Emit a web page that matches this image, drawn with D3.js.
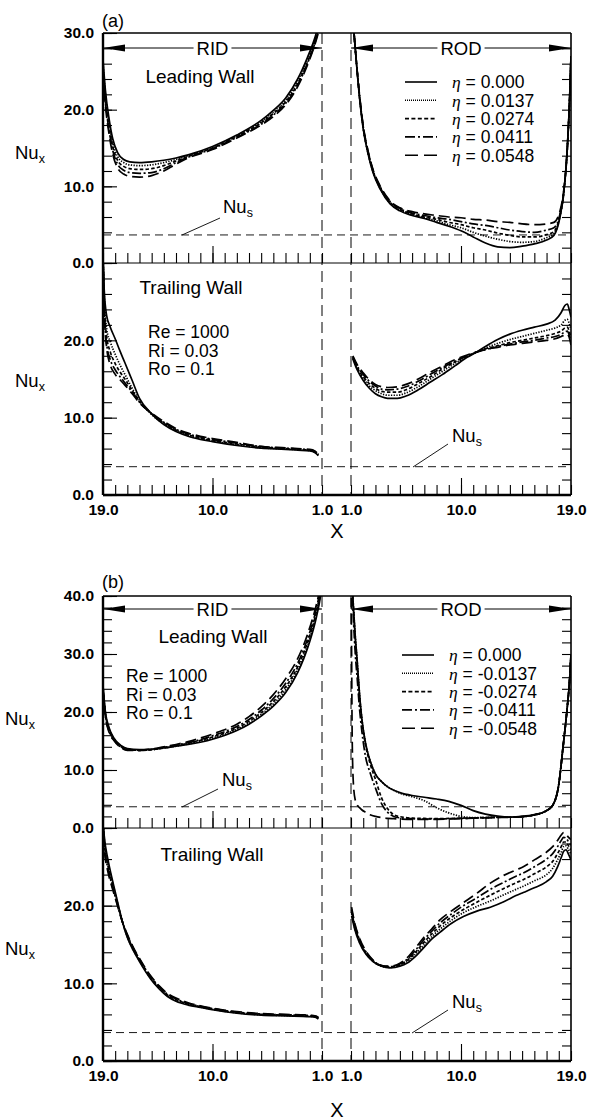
<!DOCTYPE html>
<html>
<head>
<meta charset="utf-8">
<script src="https://cdn.jsdelivr.net/npm/d3@7"></script>
<style>
  body { margin: 0; background: #fff; }
  text { font-family: "Liberation Sans", Arial, sans-serif; fill: #000; }
</style>
</head>
<body>
<svg id="fig" width="592" height="1120"></svg>
<script>
// ---------- data: local Nusselt number along the duct (X), five eta values each ----------
// series order: eta = 0, 1, 2, 3, 4 steps (0.0137 each)

const etaA = ["0.000", "0.0137", "0.0274", "0.0411", "0.0548"];
const etaB = ["0.000", "-0.0137", "-0.0274", "-0.0411", "-0.0548"];

// (a) positive eta
const aLeadRidX = [19, 18.8, 18.5, 18.2, 17.8, 17.3, 16.8, 16, 15, 14, 13, 12, 10, 8, 6, 5, 4, 3, 2.2, 1.6, 1.2];
const aLeadRid = [
  [26.5, 22.5, 18.8, 16.2, 14.4, 13.5, 13.2, 13.1, 13.2, 13.4, 13.7, 14.1, 15.2, 16.7, 18.6, 19.9, 21.5, 24.0, 26.8, 29.3, 31.5],
  [26.0, 22.0, 18.3, 15.7, 13.9, 13.1, 12.8, 12.7, 12.8, 13.1, 13.5, 14.0, 15.1, 16.6, 18.4, 19.7, 21.2, 23.7, 26.5, 29.0, 31.2],
  [25.5, 21.5, 17.8, 15.2, 13.4, 12.6, 12.3, 12.2, 12.3, 12.7, 13.3, 13.9, 15.0, 16.5, 18.3, 19.5, 21.0, 23.4, 26.2, 28.8, 31.0],
  [25.0, 21.0, 17.3, 14.7, 12.9, 12.1, 11.8, 11.7, 11.8, 12.3, 13.1, 13.8, 14.9, 16.4, 18.1, 19.3, 20.8, 23.2, 26.0, 28.6, 30.8],
  [24.5, 20.5, 16.8, 14.2, 12.4, 11.6, 11.3, 11.2, 11.4, 12.0, 12.9, 13.7, 14.8, 16.3, 18.0, 19.1, 20.6, 23.0, 25.8, 28.4, 30.6]
];

const aLeadRodX = [1.0, 1.2, 1.4, 1.7, 2.0, 2.4, 2.8, 3.4, 4.2, 5, 6, 7, 8, 9, 10, 11, 12, 13, 14, 15, 16, 17, 17.6, 18.1, 18.4, 18.7, 18.9, 19];
const aLeadRod = [
  [36, 31, 27, 21.5, 17.5, 14.2, 11.8, 9.6, 7.7, 6.8, 6.2, 5.8, 5.3, 4.8, 4.2, 3.4, 2.6, 2.1, 2.0, 2.2, 2.5, 3.0, 3.6, 6.0, 9.0, 15.0, 22.0, 27.0],
  [36, 31, 27, 21.6, 17.6, 14.3, 11.9, 9.7, 7.8, 6.9, 6.3, 5.9, 5.5, 5.0, 4.6, 4.0, 3.5, 3.1, 2.8, 2.7, 2.8, 3.3, 3.8, 6.1, 9.0, 15.0, 22.0, 27.0],
  [36, 31, 27, 21.7, 17.7, 14.4, 12.0, 9.8, 7.9, 7.0, 6.4, 6.0, 5.7, 5.3, 5.0, 4.6, 4.3, 3.9, 3.6, 3.4, 3.4, 3.7, 4.1, 6.2, 9.1, 15.0, 22.0, 27.0],
  [36, 31, 27, 21.8, 17.8, 14.5, 12.1, 9.9, 8.0, 7.1, 6.5, 6.2, 5.9, 5.7, 5.4, 5.1, 4.9, 4.6, 4.3, 4.1, 4.0, 4.3, 4.6, 6.4, 9.2, 15.0, 22.0, 27.0],
  [36, 31, 27, 21.9, 17.9, 14.6, 12.2, 10.0, 8.1, 7.2, 6.7, 6.4, 6.2, 6.0, 5.9, 5.7, 5.6, 5.4, 5.3, 5.1, 5.0, 5.1, 5.3, 6.8, 9.4, 15.1, 22.0, 27.0]
];

const aTrailRidX = [19, 18.9, 18.7, 18.4, 18.0, 17.6, 17.2, 16.6, 16.0, 15, 14, 13, 12, 11, 10, 8, 6, 4, 3, 2, 1.6, 1.3];
const aTrailRid = [
  [31, 26.5, 23.2, 21.7, 20.2, 18.6, 17.1, 14.8, 12.5, 10.5, 9.1, 8.2, 7.6, 7.2, 6.9, 6.4, 6.05, 5.9, 5.8, 5.7, 5.5, 5.1],
  [31, 26, 21.5, 19.8, 18.2, 16.8, 15.6, 13.8, 12.2, 10.4, 9.2, 8.3, 7.7, 7.3, 7.0, 6.5, 6.1, 5.95, 5.85, 5.75, 5.55, 5.15],
  [31, 25, 20.5, 18.5, 17.0, 15.9, 15.0, 13.5, 12.1, 10.5, 9.3, 8.4, 7.8, 7.4, 7.1, 6.6, 6.2, 6.0, 5.9, 5.8, 5.6, 5.2],
  [31, 24.5, 19.5, 17.5, 16.2, 15.3, 14.5, 13.3, 12.0, 10.5, 9.4, 8.5, 7.9, 7.5, 7.2, 6.7, 6.25, 6.05, 5.95, 5.85, 5.65, 5.25],
  [31, 24, 19, 16.8, 15.6, 14.9, 14.2, 13.1, 11.9, 10.6, 9.5, 8.6, 8.0, 7.6, 7.3, 6.8, 6.3, 6.1, 6.0, 5.9, 5.7, 5.3]
];

const aTrailRodX = [1.15, 1.5, 2, 2.5, 3, 3.5, 4, 4.8, 5.5, 6.5, 7.5, 8.5, 9.5, 10.5, 11.3, 12, 13, 14, 15, 16, 17, 17.7, 18.2, 18.5, 18.7, 18.85, 19];
const aTrailRod = [
  [17.6, 16.2, 14.8, 13.8, 13.1, 12.7, 12.5, 12.5, 12.8, 13.6, 14.6, 15.6, 16.7, 17.8, 18.5, 19.2, 20.1, 20.8, 21.3, 21.7, 22.1, 22.6, 23.6, 24.5, 24.7, 24.0, 23.0],
  [17.7, 16.4, 15.1, 14.1, 13.5, 13.1, 12.9, 12.9, 13.2, 14.0, 15.0, 16.0, 17.0, 17.9, 18.5, 19.0, 19.6, 20.1, 20.5, 20.9, 21.3, 21.6, 22.0, 22.6, 22.7, 22.2, 21.4],
  [17.8, 16.5, 15.3, 14.4, 13.8, 13.4, 13.3, 13.3, 13.6, 14.4, 15.3, 16.3, 17.2, 18.0, 18.5, 18.9, 19.3, 19.7, 20.0, 20.3, 20.6, 20.9, 21.2, 21.6, 21.7, 21.2, 20.3],
  [17.9, 16.7, 15.6, 14.7, 14.1, 13.7, 13.6, 13.7, 14.0, 14.7, 15.6, 16.5, 17.3, 18.0, 18.5, 18.8, 19.2, 19.5, 19.8, 20.0, 20.3, 20.5, 20.8, 21.1, 21.2, 20.7, 19.8],
  [18.0, 16.9, 15.8, 14.9, 14.3, 14.0, 13.9, 14.0, 14.3, 15.0, 15.9, 16.7, 17.5, 18.1, 18.5, 18.8, 19.1, 19.4, 19.6, 19.8, 20.0, 20.2, 20.5, 20.7, 20.8, 20.4, 19.4]
];

// (b) negative eta
const bLeadRidX = [19, 18.8, 18.5, 18.1, 17.5, 17, 16, 15, 14, 13, 12, 10, 8, 7, 6, 5, 4, 3, 2.5, 2, 1.5, 1.2, 1.05];
const bLeadRid = [
  [24.5, 20.0, 17.3, 15.5, 14.2, 13.7, 13.5, 13.6, 13.8, 14.1, 14.4, 15.3, 16.8, 17.9, 19.3, 21.0, 23.3, 26.8, 29.2, 32.2, 36.0, 39.0, 41.0],
  [24.3, 19.8, 17.1, 15.4, 14.1, 13.6, 13.4, 13.5, 13.8, 14.1, 14.5, 15.5, 17.0, 18.1, 19.6, 21.4, 23.8, 27.3, 29.7, 32.7, 36.5, 39.5, 41.5],
  [24.1, 19.6, 16.9, 15.3, 14.0, 13.5, 13.4, 13.5, 13.8, 14.2, 14.6, 15.7, 17.2, 18.4, 19.9, 21.8, 24.3, 27.8, 30.2, 33.2, 37.0, 40.0, 42.0],
  [23.9, 19.4, 16.7, 15.2, 13.9, 13.5, 13.4, 13.5, 13.9, 14.3, 14.7, 15.9, 17.5, 18.7, 20.3, 22.3, 24.9, 28.4, 30.8, 33.8, 37.5, 40.5, 42.5],
  [23.7, 19.2, 16.5, 15.1, 13.8, 13.4, 13.4, 13.6, 14.0, 14.4, 14.9, 16.2, 17.9, 19.2, 20.9, 23.0, 25.7, 29.2, 31.6, 34.6, 38.2, 41.0, 43.0]
];

const bLeadRodX = [1.0, 1.05, 1.1, 1.2, 1.35, 1.5, 1.7, 1.9, 2.2, 2.55, 3.0, 3.5, 4.0, 4.5, 5, 6, 7, 8, 9, 10, 11, 12, 13, 14, 15, 16, 17, 17.5, 18, 18.35, 18.67, 18.9, 19];
const bLeadRod = [
  [48, 45, 42, 38, 33, 29, 23, 18.6, 14.5, 11.7, 9.3, 8.0, 7.1, 6.5, 6.1, 5.6, 5.3, 5.0, 4.6, 3.9, 3.0, 2.4, 2.05, 1.9, 2.0, 2.3, 3.0, 3.9, 7.5, 14.0, 20.3, 26.0, 30.0],
  [48, 45, 42, 38, 33, 29, 23, 18.6, 14.5, 11.7, 9.3, 8.0, 7.1, 6.5, 6.0, 5.4, 4.7, 3.5, 2.6, 2.0, 1.8, 1.8, 1.85, 1.85, 1.95, 2.25, 3.0, 3.9, 7.5, 14.0, 20.3, 26.0, 30.0],
  [48, 45, 42, 38, 32, 28, 22.5, 18.3, 14.2, 11.2, 8.4, 5.2, 3.3, 2.3, 1.95, 1.7, 1.65, 1.6, 1.65, 1.7, 1.75, 1.8, 1.85, 1.85, 1.95, 2.25, 3.0, 3.9, 7.5, 14.0, 20.3, 26.0, 30.0],
  [48, 45, 41, 36, 30, 26, 20.5, 16.5, 12.2, 9.6, 6.9, 4.2, 2.7, 2.0, 1.75, 1.6, 1.55, 1.55, 1.6, 1.65, 1.7, 1.8, 1.85, 1.85, 1.95, 2.25, 3.0, 3.9, 7.5, 14.0, 20.3, 26.0, 30.0],
  [48, 30, 15, 7.5, 4.8, 4.0, 3.5, 3.1, 2.7, 2.3, 2.0, 1.8, 1.65, 1.6, 1.55, 1.5, 1.5, 1.5, 1.55, 1.6, 1.7, 1.75, 1.8, 1.85, 1.95, 2.25, 3.0, 3.9, 7.5, 14.0, 20.3, 26.0, 30.0]
];

const bTrailRidX = [19, 18.9, 18.6, 18.3, 18.0, 17.7, 17.4, 17.0, 16.5, 16.0, 15.1, 14.4, 13.7, 13, 12, 11, 10, 8, 6, 4, 2, 1.5, 1.3];
const bTrailRid = [
  [31, 29.0, 26.0, 23.8, 21.8, 19.8, 17.9, 15.9, 14.2, 12.8, 10.6, 9.3, 8.3, 7.7, 7.2, 6.9, 6.6, 6.15, 5.9, 5.8, 5.7, 5.6, 5.4],
  [31, 28.6, 25.6, 23.5, 21.6, 19.7, 17.9, 16.0, 14.3, 12.9, 10.7, 9.4, 8.4, 7.8, 7.3, 6.95, 6.65, 6.2, 5.95, 5.85, 5.75, 5.65, 5.45],
  [31, 28.2, 25.2, 23.2, 21.4, 19.6, 17.9, 16.1, 14.4, 13.0, 10.8, 9.5, 8.5, 7.9, 7.35, 7.0, 6.7, 6.25, 6.0, 5.9, 5.8, 5.7, 5.5],
  [31, 27.8, 24.8, 22.9, 21.2, 19.5, 17.9, 16.2, 14.5, 13.1, 10.9, 9.6, 8.6, 8.0, 7.4, 7.05, 6.75, 6.3, 6.05, 5.95, 5.85, 5.75, 5.55],
  [31, 27.4, 24.4, 22.6, 21.0, 19.4, 17.9, 16.3, 14.6, 13.2, 11.0, 9.7, 8.7, 8.1, 7.5, 7.1, 6.8, 6.35, 6.1, 6.0, 5.9, 5.8, 5.6]
];

const bTrailRodX = [1.05, 1.3, 1.7, 2.2, 2.8, 3.5, 4.2, 5, 5.6, 6.3, 6.9, 7.6, 8.3, 9.2, 10.2, 11.3, 12.4, 13.5, 14.5, 15.1, 16, 17, 17.5, 17.9, 18.2, 18.4, 18.6, 18.8, 19];
const bTrailRod = [
  [18.7, 17.0, 15.2, 13.8, 12.8, 12.2, 12.0, 12.2, 12.6, 13.5, 14.5, 15.7, 16.6, 17.7, 18.6, 19.3, 19.8, 20.5, 21.3, 21.7, 22.3, 23.1, 23.8, 25.0, 26.2, 27.0, 27.2, 26.6, 25.9],
  [19.0, 17.2, 15.3, 13.9, 12.85, 12.2, 12.05, 12.3, 12.8, 13.8, 14.8, 16.0, 17.0, 18.1, 19.1, 19.9, 20.6, 21.4, 22.1, 22.5, 23.2, 24.0, 24.8, 25.9, 26.9, 27.6, 27.7, 27.2, 26.6],
  [19.2, 17.4, 15.5, 14.0, 12.9, 12.25, 12.1, 12.4, 12.95, 14.05, 15.15, 16.35, 17.4, 18.5, 19.5, 20.45, 21.35, 22.2, 22.95, 23.35, 24.1, 25.0, 25.7, 26.7, 27.6, 28.2, 28.2, 27.7, 27.2],
  [19.5, 17.6, 15.6, 14.1, 12.95, 12.3, 12.15, 12.5, 13.1, 14.3, 15.5, 16.7, 17.8, 18.9, 20.0, 21.0, 22.1, 23.0, 23.8, 24.2, 25.0, 26.0, 26.7, 27.6, 28.4, 28.8, 28.7, 28.2, 27.8],
  [19.8, 17.8, 15.8, 14.2, 13.0, 12.3, 12.2, 12.6, 13.3, 14.6, 15.8, 17.0, 18.2, 19.3, 20.4, 21.6, 22.9, 23.9, 24.6, 25.0, 25.9, 26.9, 27.6, 28.4, 29.1, 29.4, 29.2, 28.8, 28.5]
];

const nuS = 3.66;                       // fully developed Nusselt number
const leadTicksA = [0, 10, 20, 30];
const leadTicksB = [0, 10, 20, 30, 40];
const trailTicks = [0, 10, 20];
const ridLabels = [19, 10, 1];
const rodLabels = [1, 10, 19];
const flowParams = ["Re = 1000", "Ri = 0.03", "Ro = 0.1"];

// ---------- styling ----------
const curveDash = [null, "1.3,1.4", "3.5,2.2", "9,2.5,2,2.5", "11,5"];
const keyDash = [null, "1,1", "4,2.4", "10,3,2,3", "13,6"];

const svg = d3.select("#fig");
const defs = svg.append("defs");
const fmt = d3.format(".1f");

const L = 103, R = 571, GAP_L = 322, GAP_R = 351;

function cleanAxis(g) {
  g.select(".domain").remove();
  g.selectAll(".tick line").attr("stroke", "#000").attr("stroke-width", 1.1);
  g.selectAll("text").attr("font-size", 15.5).attr("font-weight", "bold")
    .attr("font-family", "Liberation Sans, Arial, sans-serif").attr("fill", "#000");
}

function nuText(g, x, y, sub) {
  const t = g.append("text").attr("x", x).attr("y", y).attr("font-size", 18.5);
  t.append("tspan").text("Nu");
  t.append("tspan").attr("font-size", 12.5).attr("dy", 4).text(sub);
}

function arrowSpan(g, x0, x1, y, label) {
  g.append("line").attr("x1", x0).attr("x2", x1).attr("y1", y).attr("y2", y)
    .attr("stroke", "#000").attr("stroke-width", 1);
  const head = (tip, dir) => g.append("path")
    .attr("d", `M${tip},${y}L${tip + dir * 22},${y - 3.5}L${tip + dir * 22},${y + 3.5}Z`)
    .attr("fill", "#000");
  head(x0, 1); head(x1, -1);
  const bg = g.append("rect").attr("fill", "#fff");
  const t = g.append("text").attr("x", (x0 + x1) / 2).attr("y", y + 6.5)
    .attr("text-anchor", "middle").attr("font-size", 18.5).text(label);
  const bb = t.node().getBBox();
  bg.attr("x", bb.x - 3).attr("y", y - 3).attr("width", bb.width + 6).attr("height", 6);
}

function drawPanel(p) {
  const g = svg.append("g");
  const xRid = d3.scaleLinear().domain([19, 1]).range([L, GAP_L]);
  const xRod = d3.scaleLinear().domain([1, 19]).range([GAP_R, R]);
  const yLead = d3.scaleLinear().domain([0, p.leadMax]).range([p.mid, p.top]);
  const yTrail = d3.scaleLinear().domain([0, 30]).range([p.bottom, p.mid]);

  const walls = [
    { key: "lead", y: yLead, y0: p.top, y1: p.mid, rid: [p.leadRidX, p.leadRid], rod: [p.leadRodX, p.leadRod] },
    { key: "trail", y: yTrail, y0: p.mid, y1: p.bottom, rid: [p.trailRidX, p.trailRid], rod: [p.trailRodX, p.trailRod] }
  ];

  // Nu_s reference lines
  walls.forEach(w => {
    g.append("line").attr("x1", L).attr("x2", R).attr("y1", w.y(nuS)).attr("y2", w.y(nuS))
      .attr("stroke", "#000").attr("stroke-width", 0.9).attr("stroke-dasharray", "8,5");
  });

  // curves, clipped to each wall's plot area
  walls.forEach(w => {
    const id = p.id + w.key;
    defs.append("clipPath").attr("id", id).append("rect")
      .attr("x", L).attr("y", w.y0).attr("width", R - L).attr("height", w.y1 - w.y0);
    const cg = g.append("g").attr("clip-path", `url(#${id})`);
    [[xRid, w.rid], [xRod, w.rod]].forEach(([x, [xs, series]]) => {
      const line = d3.line().x(d => x(d[0])).y(d => w.y(d[1])).curve(d3.curveMonotoneX);
      for (let i = series.length - 1; i >= 0; i--) {
        cg.append("path").datum(xs.map((v, j) => [v, series[i][j]]))
          .attr("d", line).attr("fill", "none").attr("stroke", "#000")
          .attr("stroke-width", 1.7).attr("stroke-dasharray", curveDash[i]);
      }
    });
  });

  // y axes (ticks point inward on both sides)
  [[yLead, p.leadMax, p.leadTicks], [yTrail, 30, trailTicks]].forEach(([y, max, majors]) => {
    g.append("g").attr("transform", `translate(${L},0)`)
      .call(d3.axisLeft(y).tickValues(d3.range(0, max + 0.1, 2)).tickSize(-9).tickFormat(""))
      .call(cleanAxis);
    g.append("g").attr("transform", `translate(${L},0)`)
      .call(d3.axisLeft(y).tickValues(majors).tickSize(-14).tickPadding(9).tickFormat(fmt))
      .call(cleanAxis);
    g.append("g").attr("transform", `translate(${R},0)`)
      .call(d3.axisLeft(y).tickValues(d3.range(2, max, 2)).tickSize(9).tickFormat(""))
      .call(cleanAxis);
  });

  // x axes along the shared middle line and the bottom
  [p.mid, p.bottom].forEach((yPos, k) => {
    [[xRid, ridLabels], [xRod, rodLabels]].forEach(([x, labels]) => {
      g.append("g").attr("transform", `translate(0,${yPos})`)
        .call(d3.axisBottom(x).tickValues(d3.range(1, 20)).tickSize(-10).tickFormat(""))
        .call(cleanAxis);
      g.append("g").attr("transform", `translate(0,${yPos})`)
        .call(d3.axisBottom(x).tickValues([10]).tickSize(-17).tickFormat(""))
        .call(cleanAxis);
      if (k === 1) {
        g.append("g").attr("transform", `translate(0,${yPos})`)
          .call(d3.axisBottom(x).tickValues(labels).tickSize(0).tickPadding(9).tickFormat(fmt))
          .call(cleanAxis);
      }
    });
  });

  // frame
  const seg = (x1, y1, x2, y2, w, dash) => g.append("line")
    .attr("x1", x1).attr("y1", y1).attr("x2", x2).attr("y2", y2)
    .attr("stroke", "#000").attr("stroke-width", w).attr("stroke-dasharray", dash || null);
  seg(L, p.top, R, p.top, 1.6);
  seg(R, p.top, R, p.bottom, 1.6);
  seg(L, p.mid, R, p.mid, 1);
  seg(L, p.bottom, R, p.bottom, 2.4);
  seg(L, p.top, L, p.bottom, 2.4);
  seg(GAP_L, p.top, GAP_L, p.bottom, 1, "11,6");
  seg(GAP_R, p.top, GAP_R, p.bottom, 1, "11,6");

  // RID / ROD spans
  arrowSpan(g, L, GAP_L, p.arrowY, "RID");
  arrowSpan(g, GAP_R, R, p.arrowY, "ROD");

  // panel tag, axis titles
  g.append("text").attr("x", 102).attr("y", p.tagY).attr("font-size", 18).text(p.tag);
  nuText(g, p.nuxX, p.nuxLeadY, "x");
  nuText(g, p.nuxX, p.nuxTrailY, "x");
  g.append("text").attr("x", 337).attr("y", p.xTitleY).attr("text-anchor", "middle")
    .attr("font-size", 20).text("X");

  // Nu_s callouts
  p.nusNotes.forEach(n => {
    nuText(g, n.tx, n.ty, "s");
    seg(n.lx1, n.ly1, n.lx2, n.ly2, 0.9);
  });

  // wall names and flow parameters
  g.append("text").attr("x", p.leadName[0]).attr("y", p.leadName[1]).attr("text-anchor", "middle")
    .attr("font-size", 19).text("Leading Wall");
  g.append("text").attr("x", p.trailName[0]).attr("y", p.trailName[1]).attr("text-anchor", "middle")
    .attr("font-size", 19).text("Trailing Wall");
  flowParams.forEach((s, i) => g.append("text").attr("x", p.params[0]).attr("y", p.params[1] + i * 18.7)
    .attr("font-size", 17.5).text(s));

  // legend
  p.eta.forEach((v, i) => {
    const y = p.key[1] + i * 18.3;
    g.append("line").attr("x1", p.key[0]).attr("x2", p.key[0] + 32).attr("y1", y).attr("y2", y)
      .attr("stroke", "#000").attr("stroke-width", 1.6).attr("stroke-dasharray", keyDash[i]);
    const t = g.append("text").attr("x", p.key[0] + 47).attr("y", y + 6.3).attr("font-size", 17.5);
    t.append("tspan").attr("font-family", "Liberation Serif, serif").attr("font-style", "italic").text("η");
    t.append("tspan").text(" = " + v);
  });
}

drawPanel({
  id: "pa", tag: "(a)", tagY: 27, top: 33, mid: 263, bottom: 495, leadMax: 30, leadTicks: leadTicksA,
  leadRidX: aLeadRidX, leadRid: aLeadRid, leadRodX: aLeadRodX, leadRod: aLeadRod,
  trailRidX: aTrailRidX, trailRid: aTrailRid, trailRodX: aTrailRodX, trailRod: aTrailRod,
  arrowY: 48, nuxX: 15, nuxLeadY: 159, nuxTrailY: 387, xTitleY: 538,
  nusNotes: [
    { tx: 223, ty: 213, lx1: 220, ly1: 218, lx2: 182, ly2: 235 },
    { tx: 452, ty: 442, lx1: 448, ly1: 444, lx2: 413, ly2: 467 }
  ],
  leadName: [200, 83], trailName: [191, 294], params: [148, 338],
  eta: etaA, key: [405, 82]
});

drawPanel({
  id: "pb", tag: "(b)", tagY: 588, top: 596, mid: 828, bottom: 1061, leadMax: 40, leadTicks: leadTicksB,
  leadRidX: bLeadRidX, leadRid: bLeadRid, leadRodX: bLeadRodX, leadRod: bLeadRod,
  trailRidX: bTrailRidX, trailRid: bTrailRid, trailRodX: bTrailRodX, trailRod: bTrailRod,
  arrowY: 609, nuxX: 5, nuxLeadY: 725, nuxTrailY: 955, xTitleY: 1117,
  nusNotes: [
    { tx: 222, ty: 786, lx1: 218, ly1: 789, lx2: 182, ly2: 807 },
    { tx: 452, ty: 1008, lx1: 448, ly1: 1010, lx2: 412, ly2: 1033 }
  ],
  leadName: [213, 643], trailName: [212, 861], params: [126, 682],
  eta: etaB, key: [402, 655]
});
</script>
</body>
</html>
